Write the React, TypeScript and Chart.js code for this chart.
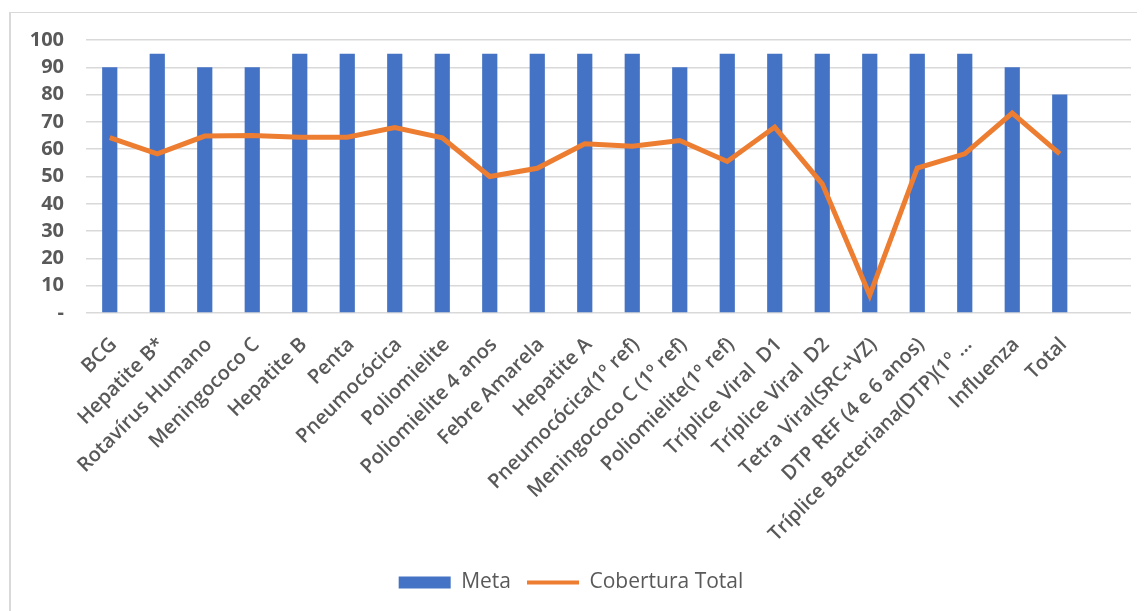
import React, { useEffect, useRef } from "react";
import { Chart, registerables } from "chart.js";

Chart.register(...registerables);

// The reference plot has an extra empty slot after "Total" (gridlines run past it).
const categories: string[] = [
  "BCG",
  "Hepatite B*",
  "Rotavírus Humano",
  "Meningococo C",
  "Hepatite B",
  "Penta",
  "Pneumocócica",
  "Poliomielite",
  "Poliomielite 4 anos",
  "Febre Amarela",
  "Hepatite A",
  "Pneumocócica(1º ref)",
  "Meningococo C (1º ref)",
  "Poliomielite(1º ref)",
  "Tríplice Viral  D1",
  "Tríplice Viral  D2",
  "Tetra Viral(SRC+VZ)",
  "DTP REF (4 e 6 anos)",
  "Tríplice Bacteriana(DTP)(1º …",
  "Influenza",
  "Total",
  "",
];

const meta: (number | null)[] = [90, 95, 90, 90, 95, 95, 95, 95, 95, 95, 95, 95, 90, 95, 95, 95, 95, 95, 95, 90, 80, null];

const coberturaTotal: (number | null)[] = [
  64.2, 58.3, 64.8, 65.0, 64.4, 64.4, 67.9, 64.2, 50.0, 53.0, 62.0, 61.1, 63.2, 55.5, 68.1, 47.3, 6.5, 53.1, 58.3, 73.2, 58.3, null,
];

const yTicks: number[] = [0, 10, 20, 30, 40, 50, 60, 70, 80, 90, 100];

const BLUE = "#4472C4";
const ORANGE = "#ED7D31";
const GREY = "#595959";

export default function App() {
  const ref = useRef<HTMLCanvasElement | null>(null);

  useEffect(() => {
    if (!ref.current) return;
    const chart = new Chart(ref.current, {
      type: "bar",
      data: {
        labels: categories,
        datasets: [
          {
            type: "bar",
            label: "Meta",
            data: meta,
            backgroundColor: BLUE,
            borderWidth: 0,
            barPercentage: 0.32,
            categoryPercentage: 1,
            order: 1,
          },
          {
            type: "line",
            label: "Cobertura Total",
            data: coberturaTotal,
            borderColor: ORANGE,
            backgroundColor: ORANGE,
            borderWidth: 5,
            pointRadius: 0,
            tension: 0,
            spanGaps: false,
            order: 0,
          } as any,
        ],
      },
      options: {
        animation: false,
        responsive: false,
        maintainAspectRatio: false,
        layout: { padding: { left: 0, right: 14, top: 27, bottom: 8 } },
        plugins: {
          tooltip: { enabled: false },
          legend: {
            position: "bottom",
            labels: {
              color: GREY,
              font: { family: "'Open Sans', sans-serif", size: 21 },
              usePointStyle: true,
              pointStyleWidth: 52,
              boxHeight: 12,
              padding: 16,
              sort: (a: any, b: any) => a.datasetIndex - b.datasetIndex,
              generateLabels: (chart: any) => {
                const items = Chart.defaults.plugins.legend.labels.generateLabels(chart);
                return items.map((it: any) => {
                  if (it.datasetIndex === 0) {
                    return { ...it, pointStyle: "rect", lineWidth: 0, strokeStyle: BLUE };
                  }
                  return { ...it, pointStyle: "line", lineWidth: 4, strokeStyle: ORANGE };
                });
              },
            },
          },
        },
        scales: {
          x: {
            grid: { display: false, drawTicks: false },
            border: { display: false },
            ticks: {
              color: GREY,
              font: { family: "'Open Sans', sans-serif", size: 20, weight: 600 },
              minRotation: 45,
              maxRotation: 45,
              autoSkip: false,
              padding: 20,
              labelOffset: 4,
            },
            afterFit: (scale: any) => {
              scale.height = 243;
              scale.paddingTop = 0;
              scale.paddingBottom = 0;
            },
          },
          y: {
            min: 0,
            max: 100,
            afterBuildTicks: (scale: any) => {
              scale.ticks = yTicks.map((v) => ({ value: v }));
            },
            grid: { color: "#D9D9D9", lineWidth: 1.5, drawTicks: false },
            border: { display: false },
            ticks: {
              autoSkip: false,
              color: GREY,
              font: { family: "'Open Sans', sans-serif", size: 20, weight: 700 },
              padding: 22,
              callback: (v: any) => (Number(v) === 0 ? "-" : String(v)),
            },
            afterFit: (scale: any) => {
              scale.width = 75;
              scale.paddingTop = 0;
              scale.paddingBottom = 0;
            },
          },
        },
      },
    });
    return () => chart.destroy();
  }, []);

  return (
    <div
      style={{
        marginLeft: 1,
        marginTop: 4,
        width: 1136,
        height: 599,
        borderLeft: "2px solid #D9D9D9",
        borderTop: "1px solid #D9D9D9",
        overflow: "hidden",
      }}
    >
      <canvas ref={ref} width={1134} height={598} style={{ display: "block" }} />
    </div>
  );
}
